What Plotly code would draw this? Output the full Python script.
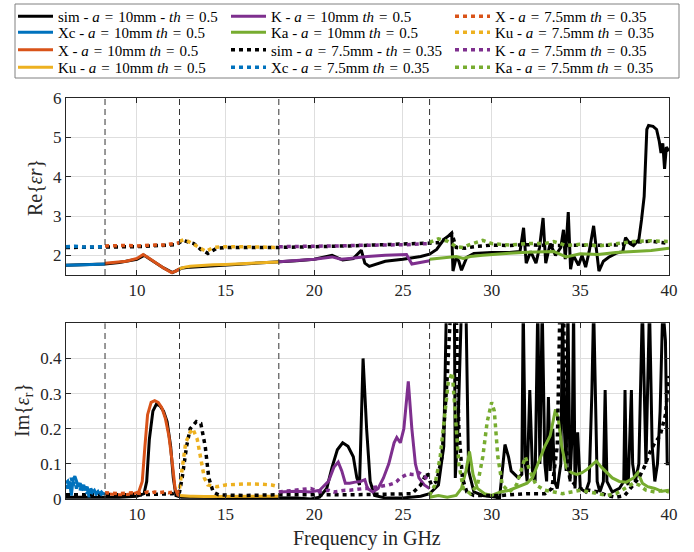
import plotly.graph_objects as go

# ---------------- colours / labels ----------------
C_SIM = "#000000"
C_XC = "#0072BD"
C_X = "#D95319"
C_KU = "#EDB120"
C_K = "#7E2F8E"
C_KA = "#77AC30"

band_edges = [8.2, 12.4, 18.0, 26.5]

# ---------------- Re{eps_r} data ----------------
f_sim_re = [6.0, 7.0, 8.2, 9.0, 10.0, 10.4, 11.0, 11.5, 12.0, 12.3, 12.5, 13.0, 15.0, 18.0, 19.0, 20.0,
            21.0, 21.6, 22.2, 22.65, 22.85, 23.1, 23.5, 24.0, 25.0, 26.0, 26.5, 26.9, 27.3, 27.6, 27.75,
            27.82, 28.0, 28.15, 28.3, 28.6, 29.0, 30.0, 31.0, 31.6, 31.8, 31.95, 32.2, 32.5, 32.7, 32.9,
            33.05, 33.3, 33.6, 33.9, 34.05, 34.15, 34.32, 34.45, 34.6, 34.9, 35.1, 35.3, 35.5, 35.75,
            35.9, 36.05, 36.3, 36.6, 37.0, 37.4, 37.55, 37.8, 38.0, 38.3, 38.45, 38.6, 38.75, 38.85,
            39.1, 39.3, 39.45, 39.55, 39.65, 39.75, 39.85, 40.0]
re_sim10 = [1.75, 1.76, 1.78, 1.82, 1.9, 2.0, 1.82, 1.68, 1.56, 1.62, 1.67, 1.7, 1.75, 1.82, 1.86, 1.9,
            2.0, 1.88, 1.92, 2.13, 1.8, 1.72, 1.78, 1.85, 1.9, 1.97, 2.03, 2.15, 2.4, 2.5, 2.56,
            1.6, 1.95, 1.85, 1.62, 1.95, 2.05, 2.07, 2.07, 2.1, 2.7, 1.8, 2.1, 1.8, 2.2, 2.95,
            1.8, 2.3, 2.0, 2.2, 2.65, 1.9, 3.1, 1.65, 2.0, 1.75, 2.0, 1.7, 2.1, 2.75,
            2.2, 1.6, 1.85, 1.95, 2.05, 2.1, 2.45, 2.3, 2.25, 2.4, 2.9, 3.5, 5.2, 5.3,
            5.28, 5.2, 4.9, 4.6, 4.85, 4.2, 4.75, 4.65]

f_sim75_re = [6.0, 8.2, 10.0, 12.2, 12.6, 13.2, 13.6, 14.0, 14.5, 15.0, 18.0, 22.0, 26.5, 27.0, 27.5,
              27.75, 28.0, 28.5, 29.0, 30.0, 31.0, 32.0, 33.0, 34.0, 35.0, 36.0, 37.0, 38.0, 39.0, 40.0]
re_sim75 = [2.2, 2.2, 2.22, 2.27, 2.38, 2.3, 2.15, 2.05, 2.18, 2.2, 2.2, 2.24, 2.3, 2.32, 2.45,
            2.56, 2.2, 2.18, 2.22, 2.26, 2.25, 2.27, 2.25, 2.25, 2.25, 2.25, 2.26, 2.33, 2.36, 2.3]

f_xc = [6.0, 6.5, 7.0, 7.5, 8.0, 8.2]
re_xc10 = [1.75, 1.75, 1.76, 1.77, 1.78, 1.78]
re_xc75 = [2.22, 2.23, 2.21, 2.22, 2.21, 2.22]

f_x = [8.2, 8.8, 9.4, 10.0, 10.35, 10.6, 11.0, 11.5, 11.95, 12.2, 12.4]
re_x10 = [1.8, 1.82, 1.85, 1.92, 2.02, 1.95, 1.82, 1.68, 1.56, 1.6, 1.66]
re_x75 = [2.24, 2.25, 2.25, 2.24, 2.25, 2.24, 2.26, 2.26, 2.28, 2.3, 2.32]

f_ku = [12.4, 12.7, 13.0, 13.5, 13.9, 14.3, 15.0, 16.0, 17.0, 18.0]
re_ku10 = [1.66, 1.7, 1.72, 1.74, 1.75, 1.76, 1.77, 1.79, 1.81, 1.83]
re_ku75 = [2.36, 2.4, 2.33, 2.2, 2.1, 2.2, 2.22, 2.22, 2.21, 2.2]

f_k = [18.0, 19.0, 20.0, 21.0, 21.5, 22.0, 23.0, 24.0, 25.2, 25.5, 25.8, 26.5]
re_k10 = [1.84, 1.87, 1.9, 1.96, 1.9, 1.92, 1.97, 2.0, 2.02, 1.78, 1.8, 1.86]
re_k75 = [2.22, 2.22, 2.23, 2.24, 2.24, 2.25, 2.25, 2.26, 2.27, 2.28, 2.28, 2.3]

f_ka = [26.5, 27.0, 27.5, 28.0, 28.4, 28.8, 29.5, 30.0, 31.0, 32.0, 33.0, 33.5, 34.2, 35.0, 36.0,
        37.0, 38.0, 39.0, 40.0]
re_ka10 = [1.9, 1.92, 1.94, 1.97, 1.92, 1.97, 2.0, 2.02, 2.05, 2.08, 2.1, 2.1, 1.96, 2.04, 2.02,
           2.07, 2.1, 2.12, 2.18]
re_ka75 = [2.33, 2.42, 2.36, 2.22, 2.2, 2.28, 2.38, 2.3, 2.26, 2.3, 2.3, 2.35, 2.25, 2.28, 2.24,
           2.3, 2.35, 2.37, 2.35]

# ---------------- Im{eps_r} data ----------------
f_sim_im = [6.0, 7.0, 8.0, 9.0, 10.0, 10.4, 10.55, 10.7, 10.9, 11.1, 11.3, 11.5, 11.7, 11.9, 12.05,
            12.2, 12.5, 15.0, 18.0, 19.0, 19.8, 20.3, 20.7, 21.0, 21.3, 21.6, 21.9, 22.2, 22.4, 22.55,
            22.75, 22.95, 23.15, 23.4, 24.0, 25.0, 26.0, 26.5, 27.0, 27.3, 27.45, 27.9, 27.95, 28.1,
            28.3, 28.55, 28.7, 29.0, 29.5, 30.3, 30.4, 30.55, 30.75, 30.95, 31.1, 31.3, 31.5, 31.7,
            31.78, 31.9, 32.0, 32.15, 32.3, 32.45, 32.6, 32.72, 32.85, 33.0, 33.1, 33.2, 33.3, 33.45,
            33.55, 33.7, 33.9, 34.0, 34.1, 34.2, 34.3, 34.42, 34.55, 34.62, 34.7, 34.85, 35.0, 35.3,
            35.5, 35.65, 35.75, 35.85, 35.95, 36.1, 36.3, 36.4, 36.5, 36.8, 37.2, 37.45, 37.52, 37.6,
            37.7, 37.88, 37.95, 38.1, 38.3, 38.5, 38.7, 38.9, 39.05, 39.2, 39.35, 39.5, 39.65, 39.8,
            39.9, 40.0]
im_sim10 = [0.005, 0.005, 0.005, 0.005, 0.008, 0.015, 0.05, 0.17, 0.25, 0.27, 0.265, 0.25, 0.22, 0.15, 0.06,
            0.01, 0.005, 0.005, 0.005, 0.003, 0.0, 0.005, 0.03, 0.09, 0.14, 0.16, 0.15, 0.12, 0.06, 0.04,
            0.4, 0.2, 0.05, 0.01, 0.003, 0.003, 0.008, 0.015, 0.04, 0.15, 0.55, 0.55, 0.06, 0.2,
            0.55, 0.55, 0.08, 0.02, 0.01, 0.005, -0.02, 0.05, 0.155, 0.12, 0.08, 0.07, 0.06, 0.07,
            0.55, 0.1, 0.05, 0.31, 0.08, 0.05, 0.55, 0.1, 0.55, 0.1, 0.05, 0.29, 0.08, 0.2,
            0.05, 0.03, 0.1, 0.55, 0.2, 0.08, 0.55, 0.05, 0.2, 0.55, 0.03, 0.19, 0.03, 0.02,
            0.05, 0.3, 0.55, 0.3, 0.05, 0.02, 0.05, 0.31, 0.05, 0.02, 0.03, 0.05, 0.31, 0.05,
            0.04, 0.31, 0.1, 0.05, 0.1, 0.55, 0.1, 0.55, 0.15, 0.05, 0.1, 0.25, 0.55, 0.45,
            0.1, 0.1]

f_sim75_im = [6.0, 8.0, 10.0, 12.0, 12.4, 12.55, 12.8, 13.0, 13.35, 13.6, 13.85, 14.05, 14.3, 14.6,
              16.0, 18.0, 22.0, 25.5, 26.0, 26.35, 26.6, 26.9, 27.2, 27.5, 27.7, 28.0, 28.15, 28.35,
              28.6, 29.0, 30.5, 32.0, 33.0, 33.4, 33.7, 33.85, 34.05, 34.2, 34.4, 34.7, 35.0, 35.5,
              36.0, 36.5, 37.0, 37.5, 38.0, 38.3, 38.6, 38.9, 39.2, 39.5, 39.8, 40.0]
im_sim75 = [0.012, 0.012, 0.012, 0.015, 0.02, 0.06, 0.15, 0.2, 0.22, 0.215, 0.15, 0.06, 0.02, 0.012,
            0.01, 0.012, 0.012, 0.015, 0.04, 0.075, 0.04, 0.05, 0.12, 0.35, 0.55, 0.55, 0.2, 0.06,
            0.02, 0.01, 0.01, 0.015, 0.015, 0.03, 0.15, 0.55, 0.55, 0.15, 0.06, 0.04, 0.03, 0.025,
            0.02, 0.01, 0.005, 0.01, 0.04, 0.06, 0.09, 0.13, 0.16, 0.18, 0.24, 0.35]

f_xc_im = [6.0, 6.1, 6.2, 6.3, 6.4, 6.5, 6.6, 6.7, 6.8, 6.9, 7.0, 7.1, 7.2, 7.3, 7.4, 7.5, 7.6, 7.7,
           7.8, 7.9, 8.0, 8.1, 8.2]
im_xc10 = [0.04, 0.03, 0.05, 0.01, 0.055, 0.065, 0.05, 0.035, 0.045, 0.03, 0.04, 0.025, 0.035, 0.005,
           0.03, 0.02, 0.025, 0.015, 0.02, 0.015, 0.02, 0.015, 0.015]
im_xc75 = [0.045, 0.05, 0.035, 0.06, 0.04, 0.05, 0.03, 0.045, 0.025, 0.04, 0.02, 0.035, 0.015, 0.03,
           0.01, 0.025, 0.02, 0.015, 0.02, 0.01, 0.015, 0.02, 0.015]

f_x_im = [8.2, 8.6, 9.0, 9.4, 9.8, 10.1, 10.3, 10.45, 10.6, 10.8, 11.0, 11.2, 11.4, 11.6, 11.8, 12.0,
          12.15, 12.3, 12.4]
im_x10 = [0.015, 0.013, 0.012, 0.013, 0.015, 0.02, 0.05, 0.15, 0.24, 0.275, 0.28, 0.275, 0.26, 0.23,
          0.18, 0.1, 0.03, 0.012, 0.01]
im_x75 = [0.018, 0.016, 0.015, 0.017, 0.018, 0.016, 0.015, 0.018, 0.02, 0.017, 0.02, 0.018, 0.019,
          0.02, 0.018, 0.02, 0.021, 0.02, 0.02]

f_ku_im = [12.4, 12.55, 12.75, 13.0, 13.15, 13.4, 13.6, 13.8, 14.0, 14.5, 15.0, 16.0, 17.0, 17.6, 18.0]
im_ku10 = [0.01, 0.009, 0.008, 0.008, 0.008, 0.007, 0.007, 0.007, 0.007, 0.007, 0.007, 0.007, 0.008,
           0.008, 0.008]
im_ku75 = [0.03, 0.08, 0.16, 0.19, 0.2, 0.17, 0.11, 0.06, 0.04, 0.035, 0.04, 0.043, 0.042, 0.04, 0.035]

f_k_im = [18.0, 19.0, 19.8, 20.3, 20.8, 21.1, 21.35, 21.55, 21.75, 22.0, 22.3, 22.6, 22.85, 23.0, 23.3,
          23.6, 23.9, 24.2, 24.5, 24.65, 24.85, 25.05, 25.3, 25.5, 25.7, 25.9, 26.2, 26.5]
im_k10 = [0.02, 0.022, 0.02, 0.025, 0.05, 0.09, 0.105, 0.08, 0.045, 0.045, 0.048, 0.05, 0.055, 0.03,
          0.02, 0.03, 0.06, 0.1, 0.16, 0.175, 0.16, 0.2, 0.335, 0.2, 0.1, 0.06, 0.04, 0.03]
im_k75 = [0.02, 0.025, 0.03, 0.02, 0.025, 0.02, 0.022, 0.025, 0.025, 0.025, 0.027, 0.03, 0.03, 0.03,
          0.032, 0.035, 0.037, 0.04, 0.045, 0.05, 0.06, 0.065, 0.072, 0.07, 0.07, 0.075, 0.065, 0.05]

f_ka_im = [26.5, 27.0, 27.5, 28.0, 28.3, 28.55, 28.75, 28.95, 29.2, 29.6, 30.0, 30.5, 31.0, 31.5,
           32.0, 32.3, 32.6, 33.0, 33.3, 33.45, 33.6, 33.75, 33.95, 34.2, 34.5, 34.8, 35.1, 35.4,
           35.7, 35.9, 36.2, 36.5, 36.8, 37.2, 37.6, 38.0, 38.25, 38.5, 38.8, 39.2, 39.6, 40.0]
im_ka10 = [0.005, 0.01, 0.005, 0.01, 0.03, 0.08, 0.135, 0.07, 0.03, 0.015, 0.01, 0.02, 0.025, 0.035,
           0.045, 0.06, 0.1, 0.15, 0.18, 0.22, 0.255, 0.23, 0.15, 0.09, 0.075, 0.07, 0.075, 0.085,
           0.1, 0.108, 0.09, 0.075, 0.06, 0.05, 0.048, 0.06, 0.075, 0.045, 0.035, 0.03, 0.022, 0.025]

f_ka75_im = [26.5, 26.8, 27.1, 27.35, 27.55, 27.78, 27.95, 28.15, 28.4, 28.8, 29.2, 29.5, 29.75, 30.0,
             30.15, 30.35, 30.6, 31.0, 31.4, 31.7, 31.9, 32.15, 32.5, 33.0, 33.5, 34.0, 34.5, 35.0,
             35.5, 36.0, 36.5, 37.0, 37.5, 38.0, 38.3, 38.7, 39.2, 39.7, 40.0]
im_ka75 = [0.01, 0.04, 0.12, 0.25, 0.33, 0.36, 0.25, 0.1, 0.03, 0.015, 0.04, 0.12, 0.22, 0.275,
           0.25, 0.12, 0.04, 0.02, 0.04, 0.09, 0.12, 0.08, 0.04, 0.025, 0.02, 0.015, 0.02, 0.025,
           0.02, 0.015, 0.01, 0.015, 0.03, 0.045, 0.04, 0.025, 0.02, 0.025, 0.02]

# legend labels (wider "math" spacing around the equals signs)
EQ = "\u2004=\u2004"
lab_sim10 = "sim - <i>a</i>" + EQ + "10mm - <i>th</i>" + EQ + "0.5"
lab_xc10 = "Xc - <i>a</i>" + EQ + "10mm <i>th</i>" + EQ + "0.5"
lab_x10 = "X - <i>a</i>" + EQ + "10mm <i>th</i>" + EQ + "0.5"
lab_ku10 = "Ku - <i>a</i>" + EQ + "10mm <i>th</i>" + EQ + "0.5"
lab_k10 = "K - <i>a</i>" + EQ + "10mm <i>th</i>" + EQ + "0.5"
lab_ka10 = "Ka - <i>a</i>" + EQ + "10mm <i>th</i>" + EQ + "0.5"
lab_sim75 = "sim - <i>a</i>" + EQ + "7.5mm - <i>th</i>" + EQ + "0.35"
lab_xc75 = "Xc - <i>a</i>" + EQ + "7.5mm <i>th</i>" + EQ + "0.35"
lab_x75 = "X - <i>a</i>" + EQ + "7.5mm <i>th</i>" + EQ + "0.35"
lab_ku75 = "Ku - <i>a</i>" + EQ + "7.5mm <i>th</i>" + EQ + "0.35"
lab_k75 = "K - <i>a</i>" + EQ + "7.5mm <i>th</i>" + EQ + "0.35"
lab_ka75 = "Ka - <i>a</i>" + EQ + "7.5mm <i>th</i>" + EQ + "0.35"

# axis titles
title_re = "Re{<i>εr</i>}"
title_im = "Im{<i>ε</i><sub>r</sub>}"
title_f = "Frequency in GHz"

# (label, colour, dotted?, re_x, re_y, im_x, im_y)  -- legend filled column by column, 4 rows
series = [
    (lab_sim10, C_SIM, False, f_sim_re, re_sim10, f_sim_im, im_sim10),
    (lab_xc10, C_XC, False, f_xc, re_xc10, f_xc_im, im_xc10),
    (lab_x10, C_X, False, f_x, re_x10, f_x_im, im_x10),
    (lab_ku10, C_KU, False, f_ku, re_ku10, f_ku_im, im_ku10),
    (lab_k10, C_K, False, f_k, re_k10, f_k_im, im_k10),
    (lab_ka10, C_KA, False, f_ka, re_ka10, f_ka_im, im_ka10),
    (lab_sim75, C_SIM, True, f_sim75_re, re_sim75, f_sim75_im, im_sim75),
    (lab_xc75, C_XC, True, f_xc, re_xc75, f_xc_im, im_xc75),
    (lab_x75, C_X, True, f_x, re_x75, f_x_im, im_x75),
    (lab_ku75, C_KU, True, f_ku, re_ku75, f_ku_im, im_ku75),
    (lab_k75, C_K, True, f_k, re_k75, f_k_im, im_k75),
    (lab_ka75, C_KA, True, f_ka, re_ka75, f_ka75_im, im_ka75),
]

# layout geometry (pixels)
W, H = 694, 552
L, R, T, B = 66, 25, 98, 53
PW, PH = W - L - R, H - T - B


def px_x(p):
    return (p - L) / PW


def px_y(p):
    return (H - B - p) / PH


FONT = "Liberation Serif"
leg_cols_px = [13, 226, 450]
leg_rows_px = [-1.5, 16, 33.5, 51]   # top of each single-entry legend

fig = go.Figure()
legend_layout = {}
for i, (lab, col, dotted, rx, ry, ix, iy) in enumerate(series):
    leg = "legend" if i == 0 else "legend%d" % (i + 1)
    line = dict(color=col, width=3.5 if dotted else 3, dash="4px,4px" if dotted else "solid")
    fig.add_trace(go.Scatter(x=rx, y=ry, mode="lines", name=lab, line=line, legend=leg,
                             xaxis="x", yaxis="y", showlegend=True))
    fig.add_trace(go.Scatter(x=ix, y=iy, mode="lines", name=lab, line=line, legend=leg,
                             xaxis="x2", yaxis="y2", showlegend=False))
    legend_layout[leg] = dict(xref="container", yref="container",
                              x=leg_cols_px[i // 4] / W, y=1 - leg_rows_px[i % 4] / H,
                              xanchor="left", yanchor="top", orientation="v",
                              bgcolor="rgba(0,0,0,0)", borderwidth=0, itemwidth=35,
                              font=dict(family=FONT, size=15, color="#000000"))

# band boundary lines
for e in band_edges:
    for xr, yr in (("x", "y domain"), ("x2", "y2 domain")):
        fig.add_shape(type="line", xref=xr, yref=yr, x0=e, x1=e, y0=0, y1=1,
                      line=dict(color="#333333", width=1, dash="6px,4px"), layer="above")

axis_common = dict(showline=True, linecolor="#262626", linewidth=1, mirror="ticks", ticks="inside",
                   ticklen=5, tickcolor="#262626", showgrid=True, gridcolor="#dedede", gridwidth=1,
                   zeroline=False, automargin=False,
                   tickfont=dict(family=FONT, size=17, color="#262626"))

fig.update_layout(
    width=W, height=H, margin=dict(l=L, r=R, t=T, b=B, autoexpand=False),
    paper_bgcolor="white", plot_bgcolor="white",
    font=dict(family=FONT, color="#262626"),
    xaxis=dict(domain=[0, 1], range=[6, 40], tickvals=[10, 15, 20, 25, 30, 35, 40], anchor="y",
               **axis_common),
    yaxis=dict(domain=[px_y(275), 1], range=[1.5, 6], tickvals=[2, 3, 4, 5, 6], anchor="x",
               **axis_common),
    xaxis2=dict(domain=[0, 1], range=[6, 40], tickvals=[10, 15, 20, 25, 30, 35, 40], anchor="y2",
                **axis_common),
    yaxis2=dict(domain=[0, px_y(323.3)], range=[0, 0.5], tickvals=[0, 0.1, 0.2, 0.3, 0.4],
                ticktext=["0", "0.1", "0.2", "0.3", "0.4"], anchor="x2",
                **axis_common),
    **legend_layout,
)

# axis titles as text annotations at fixed pixel positions
title_font = dict(family=FONT, size=20, color="#262626")
fig.add_annotation(text=title_re, xref="paper", yref="paper", x=px_x(35), y=px_y(188),
                   textangle=-90, showarrow=False, xanchor="center", yanchor="middle", font=title_font)
fig.add_annotation(text=title_im, xref="paper", yref="paper", x=px_x(23), y=px_y(410),
                   textangle=-90, showarrow=False, xanchor="center", yanchor="middle", font=title_font)
fig.add_annotation(text=title_f, xref="paper", yref="paper", x=px_x(367), y=px_y(538),
                   showarrow=False, xanchor="center", yanchor="middle", font=title_font)

# legend box
fig.add_shape(type="rect", xref="paper", yref="paper", x0=px_x(15), x1=px_x(679),
              y0=px_y(78), y1=px_y(4), line=dict(color="#808080", width=1), fillcolor="rgba(0,0,0,0)")

fig.write_html("out.html")
